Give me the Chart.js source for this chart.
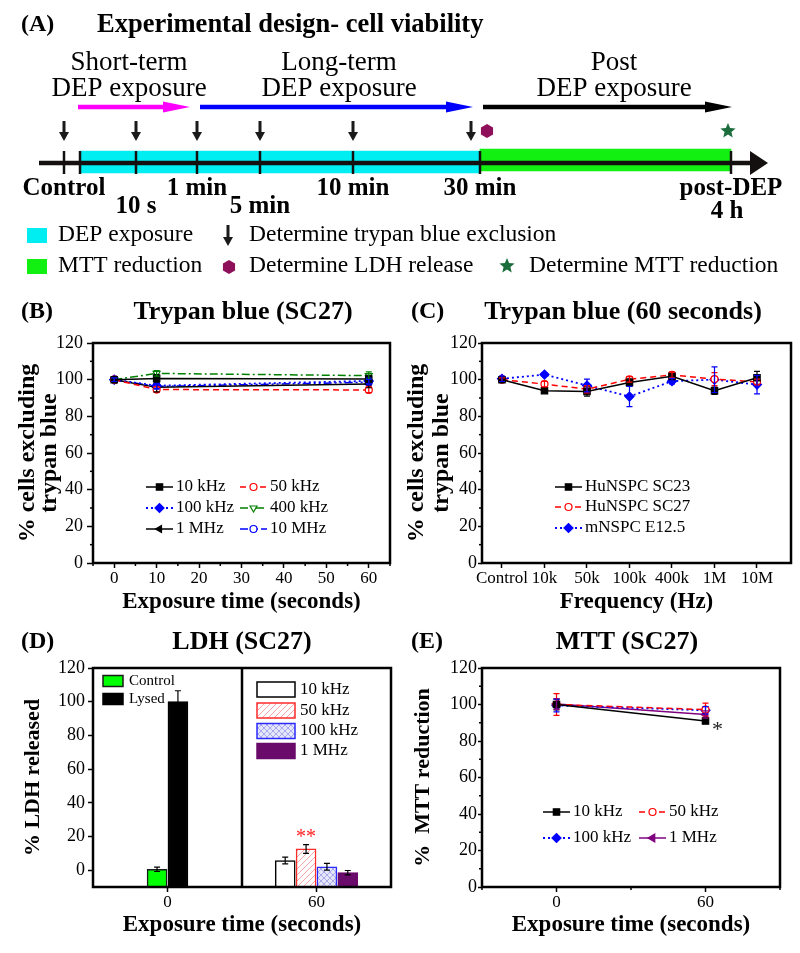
<!DOCTYPE html>
<html>
<head>
<meta charset="utf-8">
<script src="https://cdn.jsdelivr.net/npm/chart.js@4.4.1/dist/chart.umd.min.js"></script>
<style>
body { margin: 0; background: #fff; }
#fig { position: relative; width: 800px; height: 953px; }
canvas { position: absolute; }
</style>
</head>
<body>
<div id="fig">
<canvas id="pA" width="800" height="288" style="left:0;top:0;width:800px;height:288px"></canvas>
<canvas id="pB" width="400" height="330" style="left:0;top:290px;width:400px;height:330px"></canvas>
<canvas id="pC" width="400" height="330" style="left:400px;top:290px;width:400px;height:330px"></canvas>
<canvas id="pD" width="400" height="333" style="left:0;top:620px;width:400px;height:333px"></canvas>
<canvas id="pE" width="400" height="333" style="left:400px;top:620px;width:400px;height:333px"></canvas>
</div>
<script>
const FONT = "'Liberation Serif', 'Times New Roman', serif";

// (A) schematic time line
const stageLabels = ["Control", "10 s", "1 min", "5 min", "10 min", "30 min", "post-DEP"];
const stageRow = [0, 1, 0, 1, 0, 0, 0];
const stagePos = [64, 136, 197, 260, 353, 480, 731];
const phaseNames = ["Short-term", "Long-term", "Post"];
const phaseSpan = [[78, 190], [200, 473], [483, 732]];
const phaseTextX = [129, 339, 614];
const bandDEP = [80, 480];
const bandMTT = [480, 731];

// (B) trypan blue, SC27
const timeB = [0, 10, 60];
const timeTicksB = [0, 10, 20, 30, 40, 50, 60];
const pctTicks = [0, 20, 40, 60, 80, 100, 120];
const tb10k = [100, 100.7, 100.4];
const tb50k = [100, 94.6, 94.4];
const tb100k = [100, 96.7, 99.3];
const tb400k = [100, 103.4, 102.2];
const tb1M = [100, 95.8, 97.6];
const tb10M = [100, 96.3, 98.6];
const tb10kErr = [1, 2, 2];
const tb50kErr = [1, 1.5, 1.5];
const tb100kErr = [1, 1.5, 1.5];
const tb400kErr = [1, 1.5, 2];
const tb1MErr = [1, 2.5, 2];
const tb10MErr = [1, 1.5, 1.5];

// (C) trypan blue, 60 s
const freqLabels = ["Control", "10k", "50k", "100k", "400k", "1M", "10M"];
const sc23 = [100, 94, 93.5, 98.5, 101.8, 94, 101];
const sc23Err = [1.5, 1, 2.5, 2, 1, 2, 3.5];
const sc27 = [100, 97.6, 94.8, 100.2, 102.6, 100.3, 98.8];
const sc27Err = [1, 1.5, 2, 1.5, 1.5, 3.5, 1.5];
const e125 = [100.5, 102.8, 96.8, 90.8, 99.2, 100, 97.3];
const e125Err = [1.5, 1, 3.5, 5.5, 1.5, 7, 5];

// (D) LDH release
const ldhSeries = ["Control", "Lysed", "10 kHz", "50 kHz", "100 kHz", "1 MHz"];
const ldhTime = [0, 0, 60, 60, 60, 60];
const ldhValues = [0.5, 100, 5.7, 12.6, 2.0, -1.5];
const ldhErrors = [1.3, 6.5, 2.0, 2.6, 2.0, 1.3];
const ldhTicksX = [0, 60];
const ldhTicksY = [0, 20, 40, 60, 80, 100, 120];

// (E) MTT reduction
const timeE = [0, 60];
const mtt10k = [100, 91];
const mtt50k = [100, 97.2];
const mtt100k = [99.5, 96.8];
const mtt1M = [100.3, 94.5];
const mtt10kErr = [3, 1.5];
const mtt50kErr = [6, 3.5];
const mtt100kErr = [3.5, 2];
const mtt1MErr = [3, 2];

Chart.defaults.font.family = FONT;
Chart.defaults.color = "#000";
Chart.defaults.animation = false;
Chart.defaults.plugins.legend.display = false;
Chart.defaults.plugins.tooltip.enabled = false;

const ST = {
    blackSquare: { color: "#000", dash: [], point: "rect", r: 4.5 },
    redCircle: { color: "#ff0000", dash: [6, 4], point: "circle", r: 3.5, open: true },
    blueDiamond: { color: "#0000ff", dash: [2, 3], point: "rectRot", r: 4.5, w: 1.8 },
    greenDown: { color: "#008000", dash: [8, 3, 2, 3], point: "triangle", r: 4, rot: 180, open: true },
    blackLeft: { color: "#000", dash: [], point: "triangle", r: 4, rot: -90 },
    blueCircle: { color: "#0000ff", dash: [8, 3, 2, 3, 2, 3], point: "circle", r: 3.5, open: true },
    purpleLeft: { color: "#800080", dash: [], point: "triangle", r: 4.5, rot: -90 }
};

function series(label, xs, ys, errs, st) {
    return {
        label: label,
        data: xs.map((x, i) => ({ x: x, y: ys[i] })),
        errorBars: errs,
        borderColor: st.color,
        borderWidth: st.w || 1.5,
        borderDash: st.dash,
        pointStyle: st.point,
        pointRadius: st.r,
        pointRotation: st.rot || 0,
        pointBackgroundColor: st.open ? "#fff" : st.color,
        pointBorderColor: st.color,
        pointBorderWidth: 1.2,
        fill: false,
        tension: 0
    };
}

function axis(o) {
    return {
        type: "linear",
        offset: false,
        min: o.min,
        max: o.max,
        afterBuildTicks: (s) => { s.ticks = o.ticks.map((v) => ({ value: v })); },
        afterFit: (s) => {
            if (o.width) s.width = o.width;
            if (o.height) s.height = o.height;
        },
        ticks: {
            font: { size: o.fsize || 17 },
            color: "#000",
            padding: o.pad,
            autoSkip: false,
            maxRotation: 0,
            callback: o.label || ((v) => v)
        },
        grid: { offset: false, drawOnChartArea: false, drawTicks: true, tickLength: o.tick, color: "#000", tickWidth: 1.5 },
        border: { display: false },
        title: {
            display: true,
            text: o.title,
            color: "#000",
            font: { size: o.tsize, weight: "bold", lineHeight: o.tlh || 1.2 },
            padding: o.tpad
        }
    };
}

function hatch(line, bg, cross) {
    const c = document.createElement("canvas");
    c.width = 6;
    c.height = 6;
    const g = c.getContext("2d");
    g.fillStyle = bg;
    g.fillRect(0, 0, 6, 6);
    g.strokeStyle = line;
    g.lineWidth = 1;
    g.beginPath();
    g.moveTo(0, 6); g.lineTo(6, 0);
    g.moveTo(-1, 1); g.lineTo(1, -1);
    g.moveTo(5, 7); g.lineTo(7, 5);
    if (cross) {
        g.moveTo(0, 0); g.lineTo(6, 6);
        g.moveTo(-1, 5); g.lineTo(1, 7);
        g.moveTo(5, -1); g.lineTo(7, 1);
    }
    g.stroke();
    return g.createPattern(c, "repeat");
}

function text(ctx, str, x, y, size, bold, align, color) {
    ctx.save();
    ctx.font = (bold ? "bold " : "") + size + "px " + FONT;
    ctx.textAlign = align || "left";
    ctx.textBaseline = "middle";
    ctx.fillStyle = color || "#000";
    ctx.fillText(str, x, y);
    ctx.restore();
}

const pick = (v, k) => (Array.isArray(v) ? v[k] : v);

const decor = {
    id: "decor",
    afterDatasetsDraw(chart) {
        const ctx = chart.ctx;
        const ys = chart.scales.y;
        chart.data.datasets.forEach((ds, i) => {
            if (!ds.errorBars) return;
            const meta = chart.getDatasetMeta(i);
            ctx.save();
            ctx.strokeStyle = ds.errorColor || ds.borderColor;
            ctx.lineWidth = 1.2;
            meta.data.forEach((el, j) => {
                const v = meta.controller.getParsed(j).y;
                const e = ds.errorBars[j];
                const t = ys.getPixelForValue(v + e);
                const b = ys.getPixelForValue(v - e);
                ctx.beginPath();
                ctx.moveTo(el.x, t); ctx.lineTo(el.x, b);
                ctx.moveTo(el.x - 3, t); ctx.lineTo(el.x + 3, t);
                ctx.moveTo(el.x - 3, b); ctx.lineTo(el.x + 3, b);
                ctx.stroke();
            });
            ctx.restore();
        });
    },
    afterDraw(chart, args, o) {
        const ctx = chart.ctx;
        const ca = chart.chartArea;
        const xs = chart.scales.x;
        const ys = chart.scales.y;
        ctx.save();
        ctx.strokeStyle = "#000";
        ctx.lineWidth = 1.5;
        // minor ticks
        if (o.minorX) {
            const major = xs.ticks.map((t) => t.value);
            for (let v = Math.ceil(xs.min / o.minorX) * o.minorX; v <= xs.max; v += o.minorX) {
                if (major.includes(v)) continue;
                const px = xs.getPixelForValue(v);
                ctx.beginPath(); ctx.moveTo(px, ca.bottom); ctx.lineTo(px, ca.bottom + 3); ctx.stroke();
            }
        }
        if (o.minorY) {
            const major = ys.ticks.map((t) => t.value);
            for (let v = Math.ceil(ys.min / o.minorY) * o.minorY; v <= ys.max; v += o.minorY) {
                if (major.includes(v)) continue;
                const py = ys.getPixelForValue(v);
                ctx.beginPath(); ctx.moveTo(ca.left - 3, py); ctx.lineTo(ca.left, py); ctx.stroke();
            }
        }
        // divider between the two groups
        if (o.divider !== undefined) {
            const px = xs.getPixelForValue(o.divider);
            ctx.lineWidth = 2.5;
            ctx.beginPath(); ctx.moveTo(px, ca.top); ctx.lineTo(px, ca.bottom); ctx.stroke();
        }
        // frame
        ctx.lineWidth = 2.5;
        ctx.strokeRect(ca.left, ca.top, ca.right - ca.left, ca.bottom - ca.top);
        ctx.restore();

        text(ctx, o.letter, o.letterX, o.headY, 24, true);
        text(ctx, o.title, o.titleX, o.headY, 26, true, "center");

        const lg = o.legend;
        if (lg && lg.kind === "line") {
            chart.data.datasets.forEach((ds, i) => {
                const x0 = lg.cols[i % lg.cols.length];
                const y = lg.rows[Math.floor(i / lg.cols.length)];
                ctx.save();
                ctx.strokeStyle = ds.borderColor;
                ctx.lineWidth = ds.borderWidth;
                ctx.setLineDash(ds.borderDash);
                ctx.beginPath(); ctx.moveTo(x0, y); ctx.lineTo(x0 + lg.len, y); ctx.stroke();
                ctx.setLineDash([]);
                ctx.fillStyle = ds.pointBackgroundColor;
                ctx.strokeStyle = ds.pointBorderColor;
                ctx.lineWidth = ds.pointBorderWidth;
                Chart.helpers.drawPoint(ctx, {
                    pointStyle: ds.pointStyle, radius: ds.pointRadius,
                    rotation: ds.pointRotation, borderWidth: ds.pointBorderWidth
                }, x0 + lg.len / 2, y);
                ctx.restore();
                text(ctx, ds.label, x0 + lg.len + 3, y, lg.size);
            });
        }
        if (lg && lg.kind === "box") {
            const ds = chart.data.datasets[0];
            lg.groups.forEach((g) => {
                g.items.forEach((k, r) => {
                    const y = g.rows[r];
                    ctx.save();
                    ctx.fillStyle = pick(ds.backgroundColor, k);
                    ctx.fillRect(g.x, y - g.h / 2, g.w, g.h);
                    ctx.strokeStyle = pick(ds.borderColor, k);
                    ctx.lineWidth = 1.5;
                    ctx.strokeRect(g.x, y - g.h / 2, g.w, g.h);
                    ctx.restore();
                    text(ctx, chart.data.labels[k], g.x + g.w + g.gap, y, g.size);
                });
            });
        }

        (o.notes || []).forEach((n) => {
            const meta = chart.getDatasetMeta(n.ds);
            const el = meta.data[n.idx];
            const v = meta.controller.getParsed(n.idx).y;
            const e = n.onPoint ? 0 : chart.data.datasets[n.ds].errorBars[n.idx];
            ctx.save();
            ctx.font = n.size + "px " + FONT;
            ctx.textAlign = "center";
            ctx.textBaseline = "alphabetic";
            ctx.fillStyle = n.color;
            ctx.fillText(n.text, el.x + n.dx, ys.getPixelForValue(v + e) + n.dy);
            ctx.restore();
        });
    }
};

// ---------- (A) experimental design ----------
function downArrow(ctx, x, y0, y1) {
    ctx.fillStyle = "#1a1a1a";
    ctx.fillRect(x - 1.5, y0, 3, y1 - y0 - 7);
    ctx.beginPath();
    ctx.moveTo(x - 5, y1 - 9); ctx.lineTo(x + 5, y1 - 9); ctx.lineTo(x, y1);
    ctx.closePath(); ctx.fill();
}
function hexagon(ctx, x, y, r) {
    ctx.fillStyle = "#8e0f5a";
    ctx.beginPath();
    for (let k = 0; k < 6; k++) {
        const a = Math.PI / 6 + k * Math.PI / 3;
        ctx.lineTo(x + r * Math.cos(a), y + r * Math.sin(a));
    }
    ctx.closePath(); ctx.fill();
}
function star(ctx, x, y, r) {
    ctx.fillStyle = "#1b6e3b";
    ctx.beginPath();
    for (let k = 0; k < 10; k++) {
        const a = -Math.PI / 2 + k * Math.PI / 5;
        const rr = k % 2 ? r * 0.45 : r;
        ctx.lineTo(x + rr * Math.cos(a), y + rr * Math.sin(a));
    }
    ctx.closePath(); ctx.fill();
}
function rightArrow(ctx, x0, x1, y, color, w, headLen, headHalf) {
    ctx.fillStyle = color;
    ctx.fillRect(x0, y - w / 2, x1 - x0 - headLen + 2, w);
    ctx.beginPath();
    ctx.moveTo(x1 - headLen, y - headHalf); ctx.lineTo(x1, y); ctx.lineTo(x1 - headLen, y + headHalf);
    ctx.closePath(); ctx.fill();
}

const schematic = {
    id: "schematic",
    afterDatasetsDraw(chart) {
        const ctx = chart.ctx;
        const X = (v) => chart.scales.x.getPixelForValue(v);
        const Y = (v) => chart.scales.y.getPixelForValue(v);
        const ds = chart.data.datasets;

        text(ctx, "(A)", X(21), Y(25), 24, true);
        text(ctx, "Experimental design- cell viability", X(97), Y(25), 26.5, true);

        const phaseColors = ["#ff00ff", "#0000ff", "#000000"];
        phaseNames.forEach((name, i) => {
            text(ctx, name, X(phaseTextX[i]), Y(63), 27, false, "center");
            text(ctx, "DEP exposure", X(phaseTextX[i]), Y(89), 27, false, "center");
            rightArrow(ctx, X(phaseSpan[i][0]), X(phaseSpan[i][1]), Y(107), phaseColors[i], 4.5, 27, 5.5);
        });

        // trypan blue checkpoints: every stage up to 30 min
        stagePos.slice(0, 6).forEach((p, i) => {
            const x = i === 5 ? p - 9 : p;
            downArrow(ctx, X(x), Y(121), Y(141));
        });
        hexagon(ctx, X(stagePos[5] + 7), Y(131), 7);
        star(ctx, X(stagePos[6] - 3), Y(131), 8);

        // time line
        ctx.fillStyle = "#141010";
        ctx.fillRect(X(39), Y(163) - 2.25, X(752) - X(39), 4.5);
        ctx.beginPath();
        ctx.moveTo(X(750), Y(151)); ctx.lineTo(X(768), Y(163)); ctx.lineTo(X(750), Y(175));
        ctx.closePath(); ctx.fill();
        ctx.strokeStyle = "#141010";
        ctx.lineWidth = 2.5;
        [stagePos[0], bandDEP[0]].concat(stagePos.slice(1)).forEach((p) => {
            ctx.beginPath(); ctx.moveTo(X(p), Y(151)); ctx.lineTo(X(p), Y(174)); ctx.stroke();
        });

        stageLabels.forEach((s, i) => {
            text(ctx, s, X(stagePos[i]), Y(stageRow[i] ? 207 : 189), 25, true, "center");
        });
        text(ctx, "4 h", X(727), Y(212), 25, true, "center");

        // key
        ctx.fillStyle = ds[0].backgroundColor;
        ctx.fillRect(X(27), Y(228), 20, 15);
        ctx.fillStyle = ds[1].backgroundColor;
        ctx.fillRect(X(27), Y(259), 20, 15);
        text(ctx, ds[0].label, X(58), Y(235), 23.5);
        text(ctx, ds[1].label, X(58), Y(266), 23.5);
        downArrow(ctx, X(228), Y(225), Y(246));
        text(ctx, "Determine trypan blue exclusion", X(249), Y(235), 23.5);
        hexagon(ctx, X(229), Y(267), 7);
        text(ctx, "Determine LDH release", X(249), Y(266), 23.5);
        star(ctx, X(507), Y(266), 8);
        text(ctx, "Determine MTT reduction", X(529), Y(266), 23.5);
    }
};

new Chart(document.getElementById("pA"), {
    type: "bar",
    data: {
        datasets: [
            { label: "DEP exposure", data: [{ x: bandDEP, y: 162 }], backgroundColor: "#00eef2", barThickness: 22 },
            { label: "MTT reduction", data: [{ x: bandMTT, y: 160 }], backgroundColor: "#12f012", barThickness: 22 }
        ]
    },
    options: {
        responsive: false,
        indexAxis: "y",
        layout: { padding: 0 },
        datasets: { bar: { grouped: false } },
        scales: {
            x: { type: "linear", offset: false, min: 0, max: 800, display: false },
            y: { type: "linear", offset: false, min: 0, max: 288, reverse: true, display: false }
        }
    },
    plugins: [schematic]
});

// ---------- (B) ----------
new Chart(document.getElementById("pB"), {
    type: "line",
    data: {
        datasets: [
            series("10 kHz", timeB, tb10k, tb10kErr, ST.blackSquare),
            series("50 kHz", timeB, tb50k, tb50kErr, ST.redCircle),
            series("100 kHz", timeB, tb100k, tb100kErr, ST.blueDiamond),
            series("400 kHz", timeB, tb400k, tb400kErr, ST.greenDown),
            series("1 MHz", timeB, tb1M, tb1MErr, ST.blackLeft),
            series("10 MHz", timeB, tb10M, tb10MErr, ST.blueCircle)
        ]
    },
    options: {
        responsive: false,
        layout: { padding: { left: 0, top: 53, right: 10, bottom: 0 } },
        scales: {
            x: axis({ min: -5, max: 65, ticks: timeTicksB, height: 57, tick: 5, pad: 0,
                title: "Exposure time (seconds)", tsize: 23, tpad: { bottom: 4 } }),
            y: axis({ min: 0, max: 120, ticks: pctTicks, width: 93, tick: 6, pad: 4, fsize: 18,
                title: ["% cells excluding", "trypan blue"], tsize: 24, tlh: 0.92, tpad: { top: 17 } })
        },
        plugins: {
            decor: {
                letter: "(B)", letterX: 21, title: "Trypan blue (SC27)", titleX: 243, headY: 22,
                minorX: 5, minorY: 10,
                legend: { kind: "line", cols: [146, 240], rows: [197, 218, 239], len: 27, size: 17 }
            }
        }
    },
    plugins: [decor]
});

// ---------- (C) ----------
const freqIdx = freqLabels.map((_, i) => i);
new Chart(document.getElementById("pC"), {
    type: "line",
    data: {
        datasets: [
            series("HuNSPC SC23", freqIdx, sc23, sc23Err, ST.blackSquare),
            series("HuNSPC SC27", freqIdx, sc27, sc27Err, ST.redCircle),
            series("mNSPC E12.5", freqIdx, e125, e125Err, ST.blueDiamond)
        ]
    },
    options: {
        responsive: false,
        layout: { padding: { left: 0, top: 53, right: 9, bottom: 0 } },
        scales: {
            x: axis({ min: -0.47, max: 6.8, ticks: freqIdx, label: (v) => freqLabels[v], height: 57, tick: 5, pad: 0,
                title: "Frequency (Hz)", tsize: 23, tpad: { bottom: 4 } }),
            y: axis({ min: 0, max: 120, ticks: pctTicks, width: 82, tick: 4, pad: 1, fsize: 18,
                title: ["% cells excluding", "trypan blue"], tsize: 24, tlh: 1.05, tpad: { top: 4 } })
        },
        plugins: {
            decor: {
                letter: "(C)", letterX: 11, title: "Trypan blue (60 seconds)", titleX: 223, headY: 22,
                minorY: 10,
                legend: { kind: "line", cols: [155], rows: [197, 217, 238], len: 27, size: 17 }
            }
        }
    },
    plugins: [decor]
});

// ---------- (D) ----------
const ldhSlot = 8.4;
function ldhX(i) {
    const members = ldhTime.map((t, k) => (t === ldhTime[i] ? k : -1)).filter((k) => k >= 0);
    return ldhTime[i] + (members.indexOf(i) - (members.length - 1) / 2) * ldhSlot;
}
const ldhFill = ["#00ff00", "#000000", "#ffffff", hatch("#f4a4a4", "#ffffff", false), hatch("#a8a8ec", "#e6e6fa", true), "#6a0a6a"];
const ldhEdge = ["#1a1a1a", "#000000", "#000000", "#ff2a2a", "#2a2aff", "#6a0a6a"];
new Chart(document.getElementById("pD"), {
    type: "bar",
    data: {
        labels: ldhSeries,
        datasets: [{
            label: "% LDH released",
            data: ldhSeries.map((_, i) => ({ x: ldhX(i), y: ldhValues[i] })),
            base: -10,
            errorBars: ldhErrors,
            errorColor: "#000",
            backgroundColor: ldhFill,
            borderColor: ldhEdge,
            borderWidth: 1.5,
            barThickness: 20
        }]
    },
    options: {
        responsive: false,
        layout: { padding: { left: 0, top: 48, right: 9, bottom: 0 } },
        scales: {
            x: axis({ min: -30, max: 90, ticks: ldhTicksX, height: 66, tick: 5, pad: 0,
                title: "Exposure time (seconds)", tsize: 23, tpad: { bottom: 14 } }),
            y: axis({ min: -10, max: 120, ticks: ldhTicksY, width: 93, tick: 5, pad: 3, fsize: 18,
                title: "% LDH released", tsize: 22, tpad: { top: 20 } })
        },
        plugins: {
            decor: {
                letter: "(D)", letterX: 21, title: "LDH (SC27)", titleX: 242, headY: 22,
                divider: 30,
                legend: {
                    kind: "box",
                    groups: [
                        { items: [0, 1], x: 103, w: 20, h: 11, rows: [61, 79], gap: 6, size: 15 },
                        { items: [2, 3, 4, 5], x: 257, w: 38, h: 15, rows: [69.5, 90.5, 111, 131], gap: 5, size: 17 }
                    ]
                },
                notes: [{ ds: 0, idx: 3, text: "**", color: "#ff2020", dx: 0, dy: -2, size: 20 }]
            }
        }
    },
    plugins: [decor]
});

// ---------- (E) ----------
new Chart(document.getElementById("pE"), {
    type: "line",
    data: {
        datasets: [
            series("10 kHz", timeE, mtt10k, mtt10kErr, ST.blackSquare),
            series("50 kHz", timeE, mtt50k, mtt50kErr, ST.redCircle),
            series("100 kHz", timeE, mtt100k, mtt100kErr, ST.blueDiamond),
            series("1 MHz", timeE, mtt1M, mtt1MErr, ST.purpleLeft)
        ]
    },
    options: {
        responsive: false,
        layout: { padding: { left: 0, top: 48, right: 20, bottom: 0 } },
        scales: {
            x: axis({ min: -30, max: 90, ticks: timeE, height: 66, tick: 5, pad: 0,
                title: "Exposure time (seconds)", tsize: 23, tpad: { bottom: 14 } }),
            y: axis({ min: 0, max: 120, ticks: pctTicks, width: 82, tick: 4, pad: 1, fsize: 18,
                title: "%  MTT reduction", tsize: 22, tpad: { top: 10 } })
        },
        plugins: {
            decor: {
                letter: "(E)", letterX: 11, title: "MTT (SC27)", titleX: 227, headY: 22,
                minorX: 30, minorY: 10,
                legend: { kind: "line", cols: [143, 239], rows: [192, 218], len: 27, size: 17 },
                notes: [{ ds: 0, idx: 1, text: "*", color: "#222", dx: 12, dy: 15, size: 22, onPoint: true }]
            }
        }
    },
    plugins: [decor]
});
</script>
</body>
</html>
